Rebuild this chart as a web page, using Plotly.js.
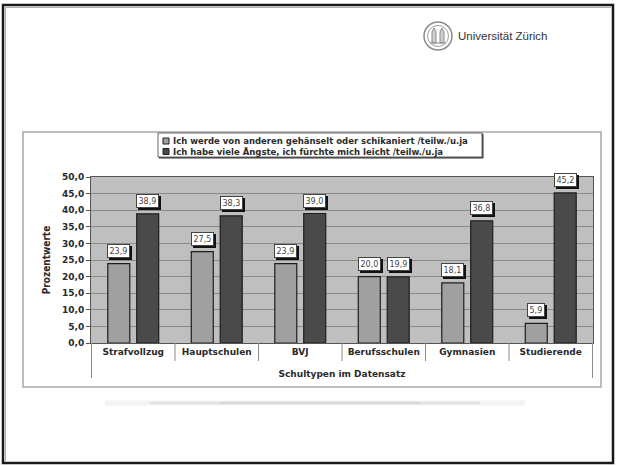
<!DOCTYPE html>
<html>
<head>
<meta charset="utf-8">
<script src="https://cdn.plot.ly/plotly-3.0.1.min.js"></script>
<style>
html,body{margin:0;padding:0;background:#fff;}
#chart{width:617px;height:466px;}
</style>
</head>
<body>
<div id="chart"></div>
<script>
// ---- data ----
const categories = ['Strafvollzug', 'Hauptschulen', 'BVJ', 'Berufsschulen', 'Gymnasien', 'Studierende'];
const series1Name = 'Ich werde von anderen gehänselt oder schikaniert /teilw./u.ja';
const series2Name = 'Ich habe viele Ängste, ich fürchte mich leicht /teilw./u.ja';
const series1 = [23.9, 27.5, 23.9, 20.0, 18.1, 5.9];
const series2 = [38.9, 38.3, 39.0, 19.9, 36.8, 45.2];
const yTitle = 'Prozentwerte';
const xTitle = 'Schultypen im Datensatz';
const logoText = 'Universität Zürich';

// ---- styling ----
const col1 = '#a0a0a0';
const col2 = '#4a4a4a';
const L = 91, R = 593, T = 177, B = 343;
const px = x => (x - L) / (R - L);
const py = y => (B - y) / (B - T);
const fBold = {family: 'DejaVu Sans, Verdana, sans-serif', size: 9, color: '#2a2a2a', weight: 'bold'};
const fmt = v => v.toFixed(1).replace('.', ',');
// invisible placeholder of the same width (figure spaces / punctuation space) for the label shadow boxes
const blank = s => s.replace(/[0-9]/g, '\u2007').replace(/,/g, '\u2008');

const traces = [
  {type: 'bar', name: series1Name, x: categories, y: series1,
   marker: {color: col1, line: {color: '#1e1e1e', width: 1.2}}, showlegend: false, hoverinfo: 'none'},
  {type: 'bar', name: series2Name, x: categories, y: series2,
   marker: {color: col2, line: {color: '#1e1e1e', width: 1.2}}, showlegend: false, hoverinfo: 'none'}
];

const annotations = [];
const shapes = [];
const off = 14.6;
const lblFont = {family: 'DejaVu Sans, sans-serif', size: 8, color: '#444'};
[[series1, -off], [series2, off]].forEach(([s, dx]) => {
  s.forEach((v, i) => {
    const base = {xref: 'x', yref: 'y', x: categories[i], y: v, showarrow: false,
      yanchor: 'bottom', borderpad: 1.5, borderwidth: 1, font: lblFont};
    annotations.push(Object.assign({}, base, {text: blank(fmt(v)), xshift: dx + 2, yshift: 4,
      bgcolor: '#111', bordercolor: '#111'}));
    annotations.push(Object.assign({}, base, {text: fmt(v), xshift: dx, yshift: 6,
      bgcolor: '#ffffff', bordercolor: '#444'}));
  });
});

// slide border
shapes.push({type: 'rect', xref: 'paper', yref: 'paper', x0: px(3), x1: px(613), y0: py(463), y1: py(5),
  line: {color: '#1a1a1a', width: 2.5}, fillcolor: 'rgba(0,0,0,0)', layer: 'below'});
shapes.push({type: 'path', xref: 'paper', yref: 'paper',
  path: `M ${px(5.5)} ${py(461)} L ${px(5.5)} ${py(7.5)} L ${px(611)} ${py(7.5)}`,
  line: {color: '#b0b0b0', width: 1}, layer: 'below'});
// chart frame
shapes.push({type: 'rect', xref: 'paper', yref: 'paper', x0: px(23), x1: px(601), y0: py(387), y1: py(132),
  line: {color: '#a8a8a8', width: 1.5}, fillcolor: 'rgba(0,0,0,0)', layer: 'below'});
// soft shadow under chart
shapes.push({type: 'line', xref: 'paper', yref: 'paper', x0: px(105), x1: px(525), y0: py(403), y1: py(403),
  line: {color: '#f3f3f3', width: 5}, layer: 'below'});
shapes.push({type: 'line', xref: 'paper', yref: 'paper', x0: px(150), x1: px(480), y0: py(403), y1: py(403),
  line: {color: '#e4e4e4', width: 3}, layer: 'below'});
shapes.push({type: 'line', xref: 'paper', yref: 'paper', x0: px(220), x1: px(420), y0: py(403), y1: py(403),
  line: {color: '#d8d8d8', width: 2}, layer: 'below'});
// category separators under x axis
for (let i = 0; i <= categories.length; i++) {
  const outer = (i === 0 || i === categories.length);
  shapes.push({type: 'line', xref: 'x', yref: 'paper', x0: i - 0.5, x1: i - 0.5, y0: 0, y1: py(outer ? 378 : 361),
    line: {color: '#8a8a8a', width: 1}});
}
// legend box
shapes.push({type: 'rect', xref: 'paper', yref: 'paper', x0: px(159), x1: px(483), y0: py(158), y1: py(134),
  line: {color: '#333', width: 1}, fillcolor: '#333'});
shapes.push({type: 'rect', xref: 'paper', yref: 'paper', x0: px(158), x1: px(482), y0: py(157), y1: py(133),
  line: {color: '#666', width: 1}, fillcolor: '#fff'});
[[col1, 141], [col2, 151.5]].forEach(([c, yy]) => {
  shapes.push({type: 'rect', xref: 'paper', yref: 'paper', x0: px(163), x1: px(169), y0: py(yy + 3), y1: py(yy - 3),
    line: {color: '#1e1e1e', width: 1}, fillcolor: c});
});
annotations.push({xref: 'paper', yref: 'paper', x: px(171), y: py(141), xanchor: 'left', yanchor: 'middle',
  text: series1Name, showarrow: false, font: Object.assign({}, fBold, {size: 8.5})});
annotations.push({xref: 'paper', yref: 'paper', x: px(171), y: py(151.5), xanchor: 'left', yanchor: 'middle',
  text: series2Name, showarrow: false, font: Object.assign({}, fBold, {size: 8.5})});
// logo
shapes.push({type: 'circle', xref: 'paper', yref: 'paper', x0: px(424), x1: px(452), y0: py(50), y1: py(22),
  line: {color: '#8c8c8c', width: 1.5}, fillcolor: '#fff'});
shapes.push({type: 'circle', xref: 'paper', yref: 'paper', x0: px(427.5), x1: px(448.5), y0: py(46.5), y1: py(25.5),
  line: {color: '#a0a0a0', width: 1}});
shapes.push({type: 'path', xref: 'paper', yref: 'paper',
  path: `M ${px(432)} ${py(43)} L ${px(432)} ${py(32)} L ${px(434)} ${py(28)} L ${px(436)} ${py(32)} L ${px(436)} ${py(43)} Z ` +
        `M ${px(440)} ${py(43)} L ${px(440)} ${py(32)} L ${px(442)} ${py(28)} L ${px(444)} ${py(32)} L ${px(444)} ${py(43)} Z ` +
        `M ${px(430)} ${py(43)} L ${px(446)} ${py(43)}`,
  line: {color: '#8c8c8c', width: 1}, fillcolor: '#d0d0d0'});
annotations.push({xref: 'paper', yref: 'paper', x: px(456), y: py(36), xanchor: 'left', yanchor: 'middle',
  text: logoText, showarrow: false,
  font: {family: 'Liberation Sans, Arial, sans-serif', size: 11.5, color: '#333'}});

const layout = {
  width: 617, height: 466,
  margin: {l: L, r: 617 - R, t: T, b: 466 - B, pad: 0},
  paper_bgcolor: '#ffffff', plot_bgcolor: '#bfbfbf',
  separators: ',.',
  barmode: 'group', bargap: 0.307, bargroupgap: 0.24,
  showlegend: false,
  xaxis: {type: 'category', showline: true, linecolor: '#555', linewidth: 1, mirror: true,
    ticks: '', tickfont: fBold, showgrid: false, automargin: false, fixedrange: true,
    title: {text: xTitle, font: fBold, standoff: 14}},
  yaxis: {range: [0, 50], dtick: 5, tick0: 0, tickformat: '.1f', ticks: 'outside', ticklen: 4, tickcolor: '#555',
    showline: true, linecolor: '#555', linewidth: 1, mirror: true, gridcolor: '#8a8a8a', gridwidth: 1,
    zeroline: false, tickfont: fBold, automargin: false, fixedrange: true,
    title: {text: yTitle, font: {family: 'Liberation Sans Narrow, DejaVu Sans Condensed, sans-serif', size: 10, color: '#2a2a2a', weight: 'bold'}, standoff: 9}},
  annotations: annotations,
  shapes: shapes
};

Plotly.newPlot('chart', traces, layout, {staticPlot: true, displayModeBar: false});
</script>
</body>
</html>
